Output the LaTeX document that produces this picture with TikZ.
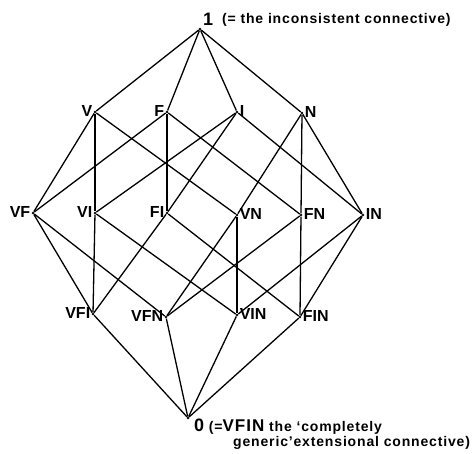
\documentclass[tikz,border=0pt]{standalone}
\usepackage{fontspec}
\setmainfont{Liberation Sans}
\newfontfamily\notefont[LetterSpace=6]{Liberation Sans}
\usetikzlibrary{positioning}

\begin{document}
\begin{tikzpicture}[
    x=1pt, y=-1pt,
    % points and their letters
    pt/.style={circle, fill=black, inner sep=0pt, minimum size=2.8pt},
    lbl/.style={font=\fontsize{16}{16}\selectfont\bfseries, inner sep=1pt, yshift=1.5pt},
    note/.style={font=\notefont\fontsize{14}{14}\selectfont\bfseries, inner sep=0pt},
    % lines of the lattice
    edge/.style={line width=1.3pt, draw=black}
]
    \useasboundingbox (0,0) rectangle (474,453);

    % ==================== Top and first level ====================
    \node (one) at (200,29) [pt] {};
    \node (onelbl) at (203,25) [anchor=base west, font=\fontsize{18}{18}\selectfont\bfseries, inner sep=0pt] {1};
    \node (onenote) [note, anchor=base west] at (222,23) {(= the inconsistent connective)};

    \node (V) at (95,112) [pt, label={[lbl]left:V}] {};
    \node (F) at (167,112) [pt, label={[lbl]left:F}] {};
    \node (I) at (237,112) [pt, label={[lbl]right:I}] {};
    \node (N) at (302,113) [pt, label={[lbl]right:N}] {};

    % ==================== Second level ====================
    \node (VF) at (33,213) [pt, label={[lbl]left:VF}] {};
    \node (VI) at (95,213) [pt, label={[lbl]left:VI}] {};
    \node (FI) at (167,213) [pt, label={[lbl]left:FI}] {};
    \node (VN) at (237,215) [pt, label={[lbl]right:VN}] {};
    \node (FN) at (301,215) [pt, label={[lbl]right:FN}] {};
    \node (IN) at (363,215) [pt, label={[lbl]right:IN}] {};

    % ==================== Third level and bottom ====================
    \node (VFI) at (93,314) [pt, label={[lbl]left:VFI}] {};
    \node (VFN) at (166,317) [pt, label={[lbl]left:VFN}] {};
    \node (VIN) at (237,315) [pt, label={[lbl]right:VIN}] {};
    \node (FIN) at (300,317) [pt, label={[lbl]right:FIN}] {};

    \node (zero) at (188,418) [pt] {};
    \node (zerolbl) [note, anchor=base west] at (194,431)
        {{\fontsize{18}{18}\selectfont 0} (={\fontsize{17}{17}\selectfont VFIN} the ‘completely};
    \node (zeronote) [note, anchor=base west] at (233,446) {generic’extensional connective)};

    % lines
    \foreach \a/\b in {one/V, one/F, one/I, one/N,
        V/VF, V/VI, V/VN, F/VF, F/FI, F/FN,
        I/VI, I/FI, I/IN, N/VN, N/FN, N/IN,
        VF/VFI, VF/VFN, VI/VFI, VI/VIN, FI/VFI, FI/FIN,
        VN/VFN, VN/VIN, FN/VFN, FN/FIN, IN/VIN, IN/FIN,
        VFI/zero, VFN/zero, VIN/zero, FIN/zero}
        \draw [edge] (\a) -- (\b);

\end{tikzpicture}
\end{document}
